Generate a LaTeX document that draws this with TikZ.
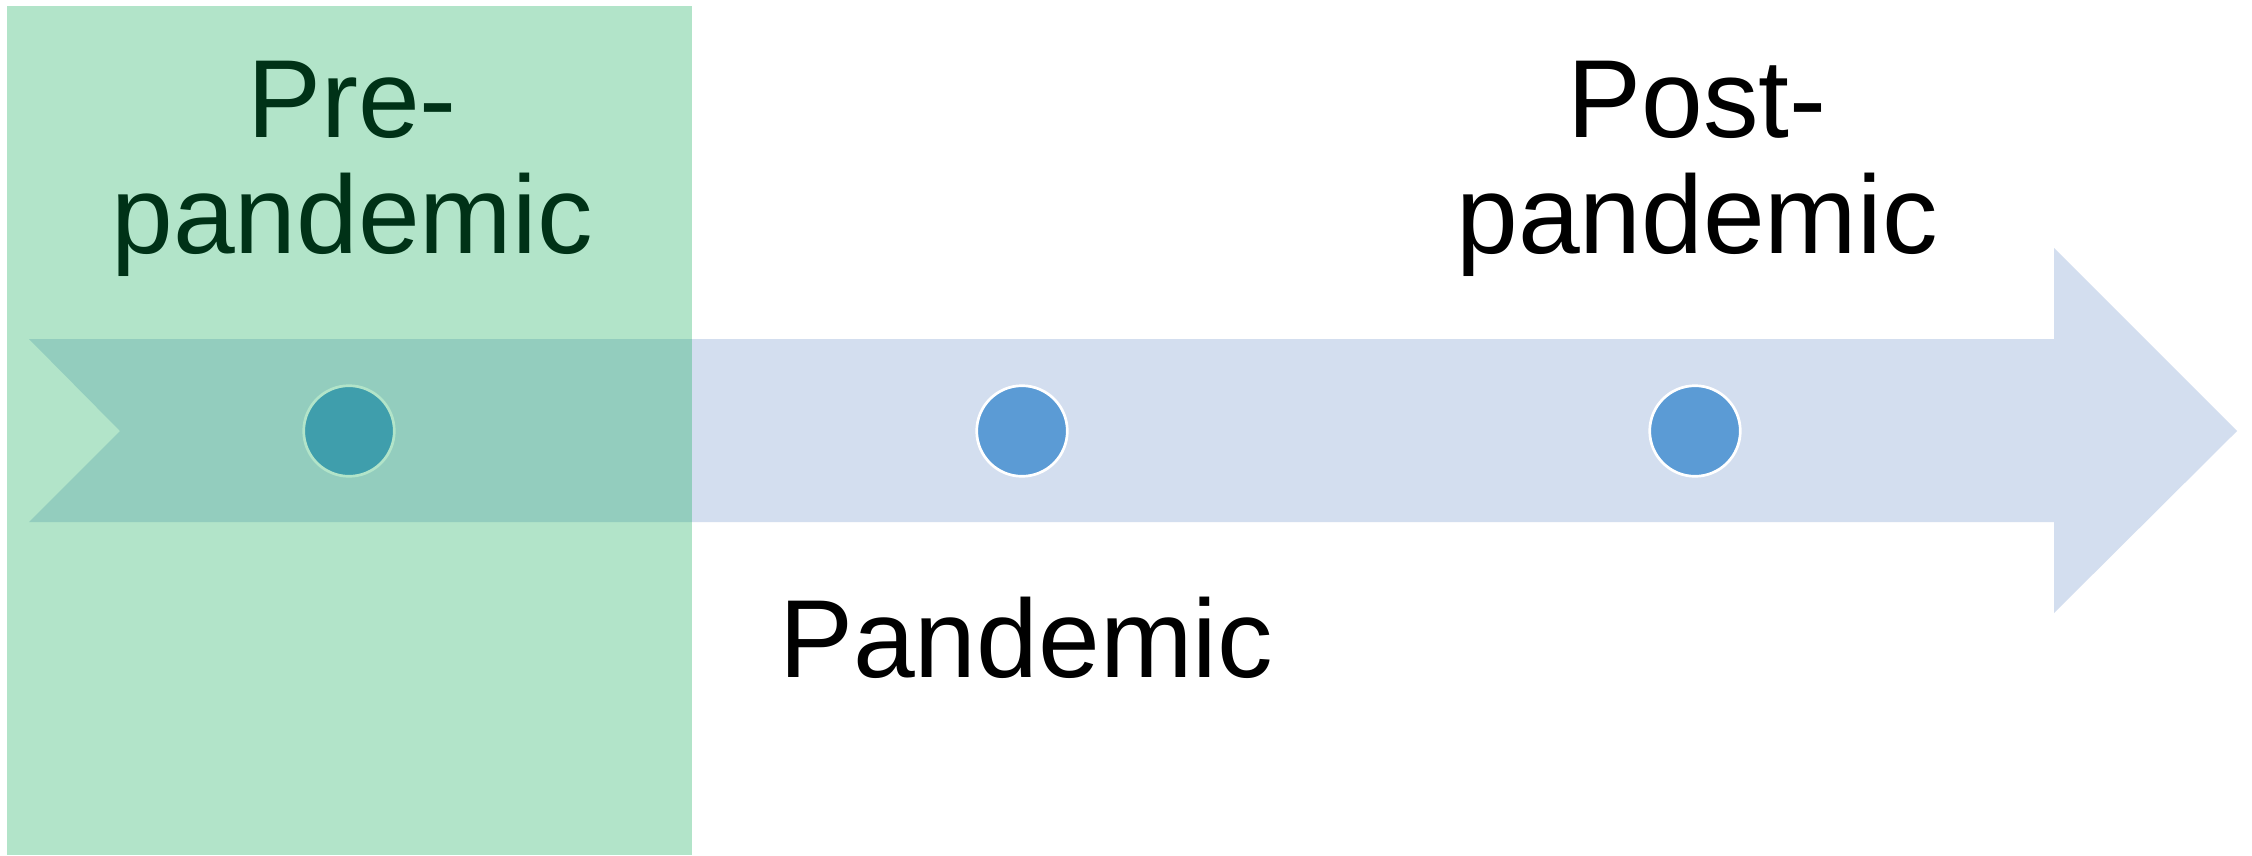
\documentclass[tikz,border=0pt]{standalone}
\usepackage{fontspec}
\setmainfont{Liberation Sans}
\definecolor{arrowblue}{HTML}{D3DEEF}
\definecolor{dotblue}{HTML}{5B9BD5}
\definecolor{overlaygreen}{HTML}{00A84E}
\tikzset{
  dot/.style={circle, fill=dotblue, draw=white, line width=2.7pt, minimum size=90.6pt, inner sep=0pt},
  label/.style={font=\fontsize{111}{116}\selectfont, text=black, inner sep=0pt, anchor=base},
}
\begin{document}
\begin{tikzpicture}[x=1pt,y=-1pt]
\useasboundingbox (0,0) rectangle (2252,855);
\fill[white] (0,0) rectangle (2252,855);
% arrow
\fill[arrowblue] (29,339) coordinate (t1) -- (120,431) -- (29,522) -- (2054,522) -- (2054,613) -- (2237,431) coordinate (tip) -- (2054,248) -- (2054,339) -- cycle;
% dots
\node[dot] (d1) at (349,431) {};
\node[dot] (d2) at (1022,431) {};
\node[dot] (d3) at (1695,431) {};
% labels
\node[label] (pre1) at (352,137) {Pre-};
\node[label] (pre2) at (352,253) {pandemic};
\node[label] (post1) at (1697,137) {Post-};
\node[label] (post2) at (1697,253) {pandemic};
\node[label] (pan) at (1026,677) {Pandemic};
% green overlay
\fill[overlaygreen, fill opacity=0.3] (7,6) rectangle (692,855);
\end{tikzpicture}
\end{document}
